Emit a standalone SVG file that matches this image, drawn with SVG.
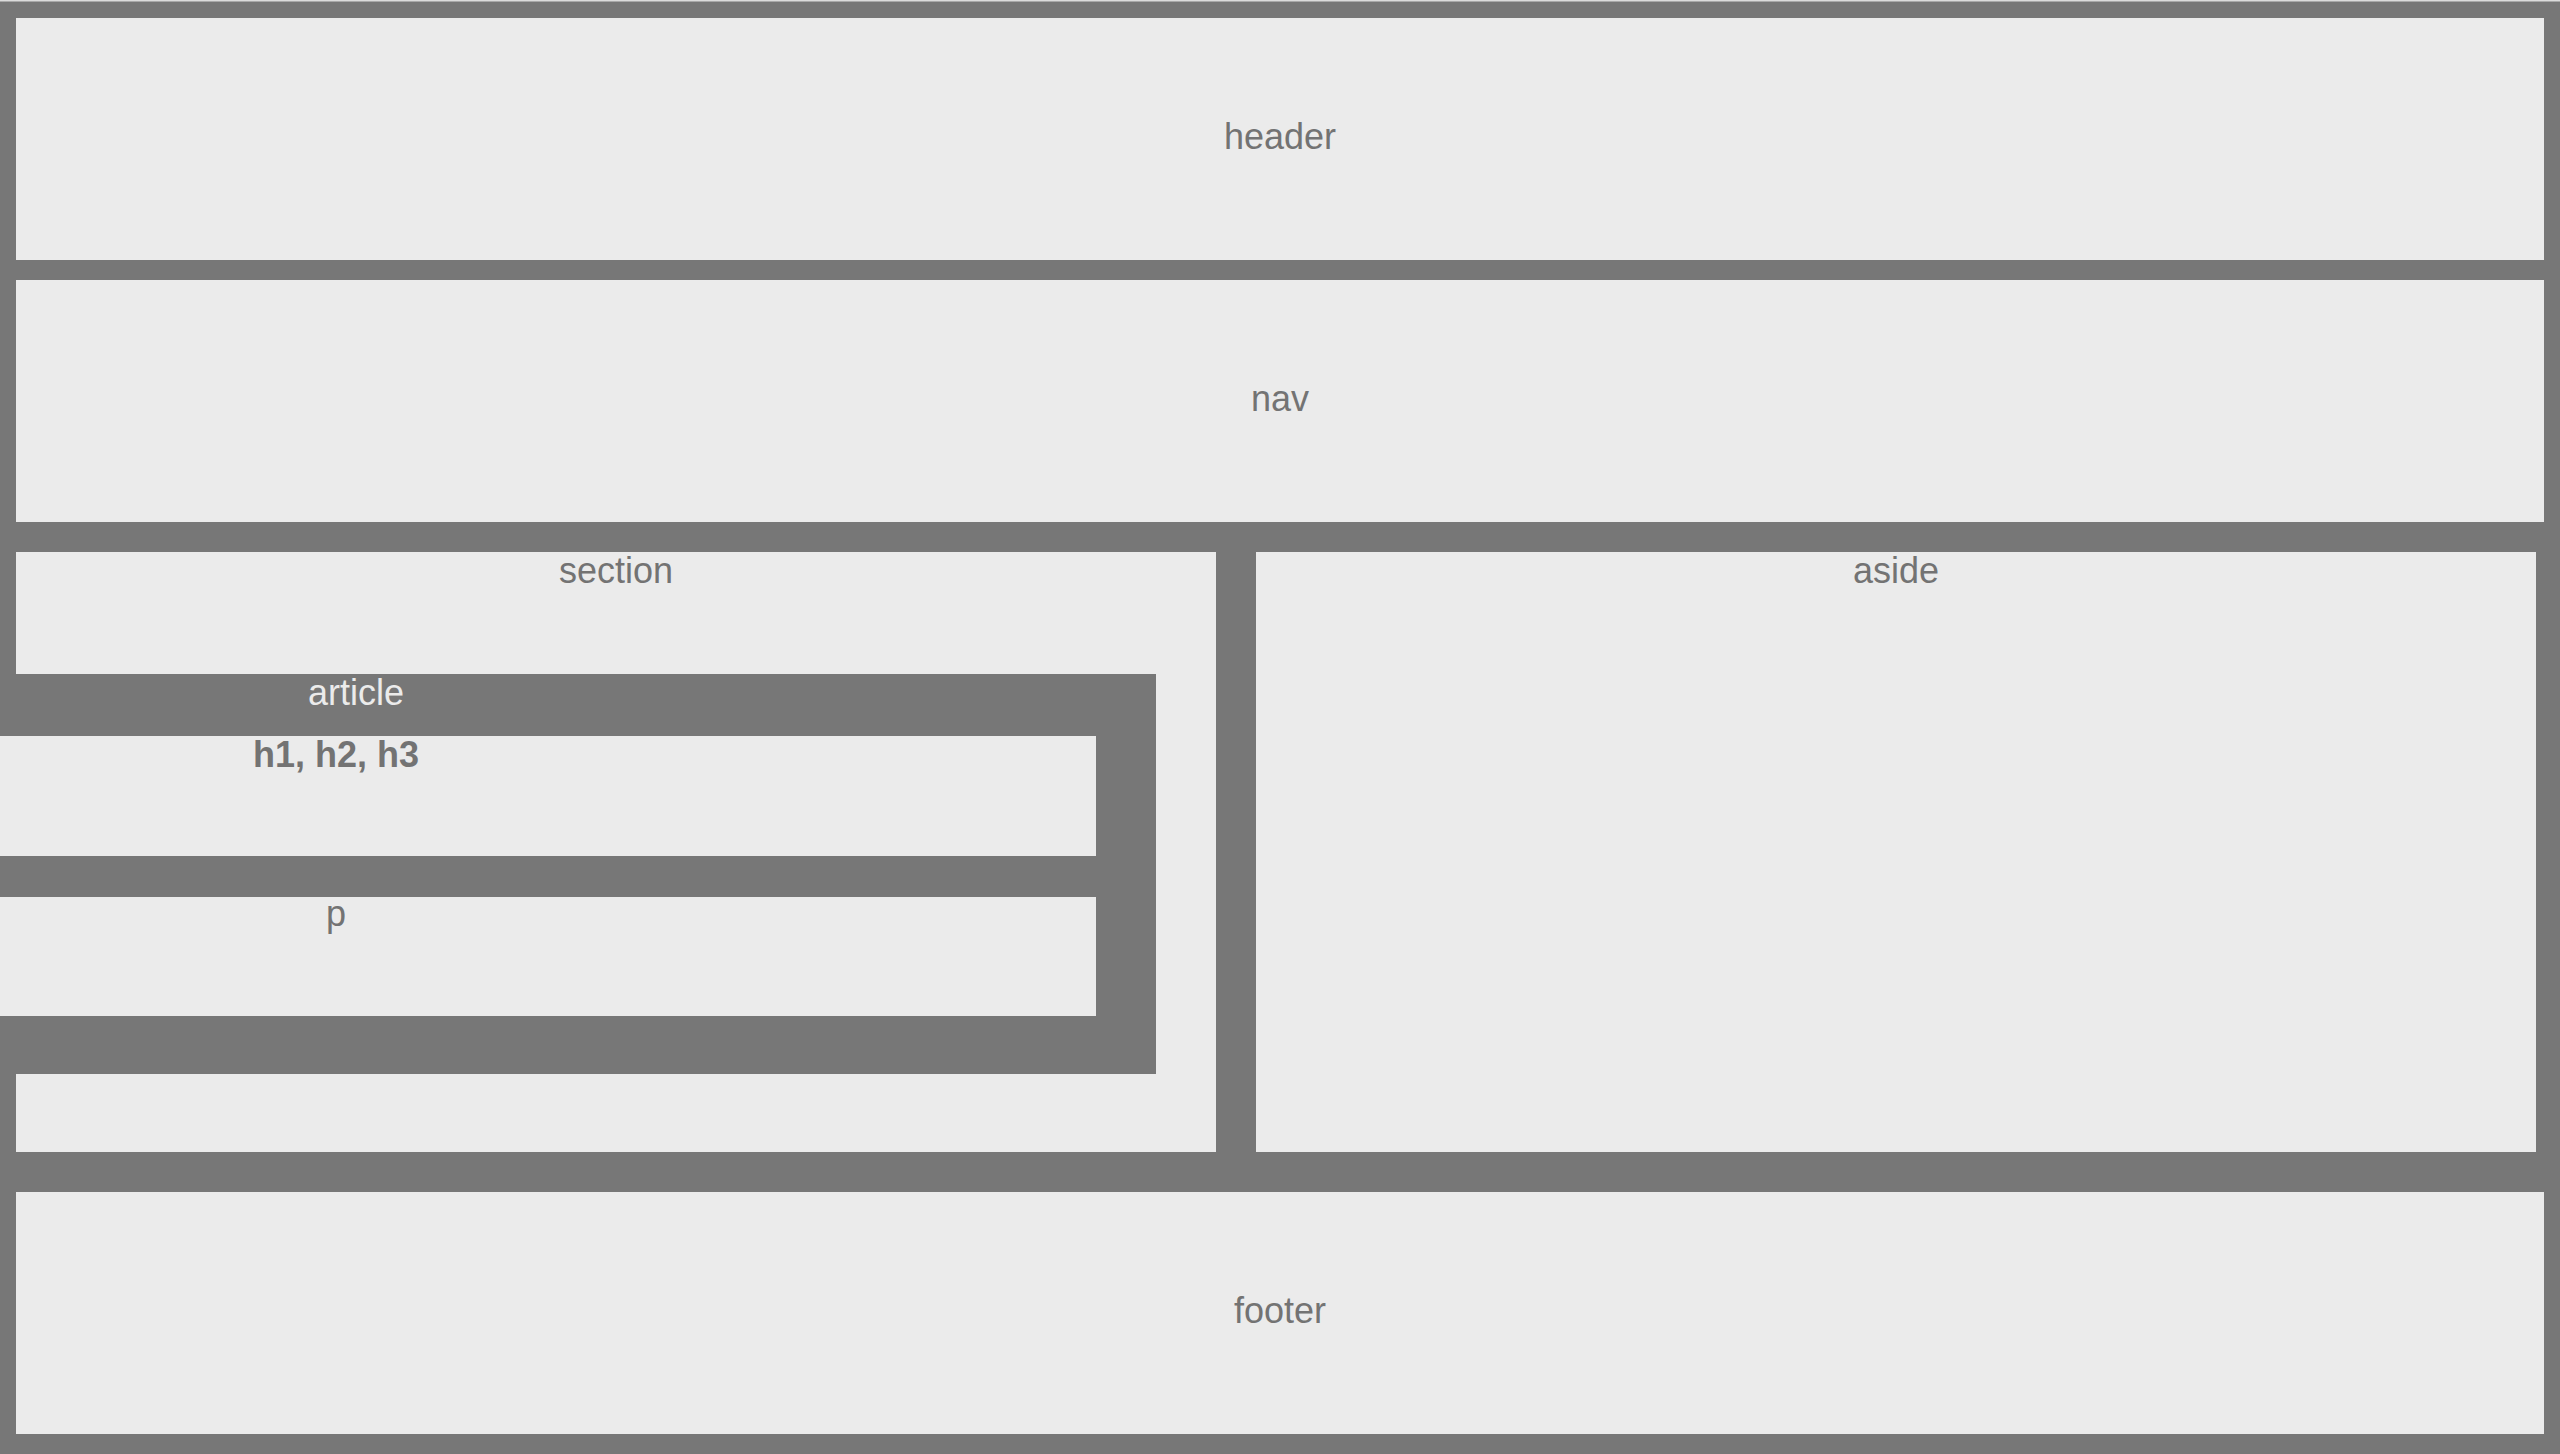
<svg xmlns="http://www.w3.org/2000/svg" width="2560" height="1454" viewBox="0 0 2560 1454">
  <style>
    .box { fill: #ebebeb; }
    .dark { fill: #777777; }
    .lbl { font-family: "Liberation Sans", Arial, sans-serif; font-size: 36px; fill: #737373; text-anchor: middle; }
    .lbl-inv { font-family: "Liberation Sans", Arial, sans-serif; font-size: 36px; fill: #ebebeb; text-anchor: middle; }
    .bold { font-weight: bold; }
  </style>
  <rect id="page" x="0" y="0" width="2560" height="1454" class="dark"/>
  <rect x="0" y="0" width="2560" height="1.5" fill="#dcdcdc"/>
  <g id="header">
    <rect x="16" y="18" width="2528" height="242" class="box"/>
    <text x="1280" y="149" class="lbl">header</text>
  </g>
  <g id="nav">
    <rect x="16" y="280" width="2528" height="242" class="box"/>
    <text x="1280" y="411" class="lbl">nav</text>
  </g>
  <g id="section">
    <rect x="16" y="552" width="1200" height="600" class="box"/>
    <text x="616" y="583" class="lbl">section</text>
  </g>
  <g id="article">
    <rect x="0" y="674" width="1156" height="400" class="dark"/>
    <text x="356" y="705" class="lbl-inv">article</text>
  </g>
  <g id="headings">
    <rect x="0" y="736" width="1096" height="120" class="box"/>
    <text x="336" y="767" class="lbl bold">h1, h2, h3</text>
  </g>
  <g id="p">
    <rect x="0" y="897" width="1096" height="119" class="box"/>
    <text x="336" y="926" class="lbl">p</text>
  </g>
  <g id="aside">
    <rect x="1256" y="552" width="1280" height="600" class="box"/>
    <text x="1896" y="583" class="lbl">aside</text>
  </g>
  <g id="footer">
    <rect x="16" y="1192" width="2528" height="242" class="box"/>
    <text x="1280" y="1323" class="lbl">footer</text>
  </g>
  <g id="connectors"/>
</svg>
